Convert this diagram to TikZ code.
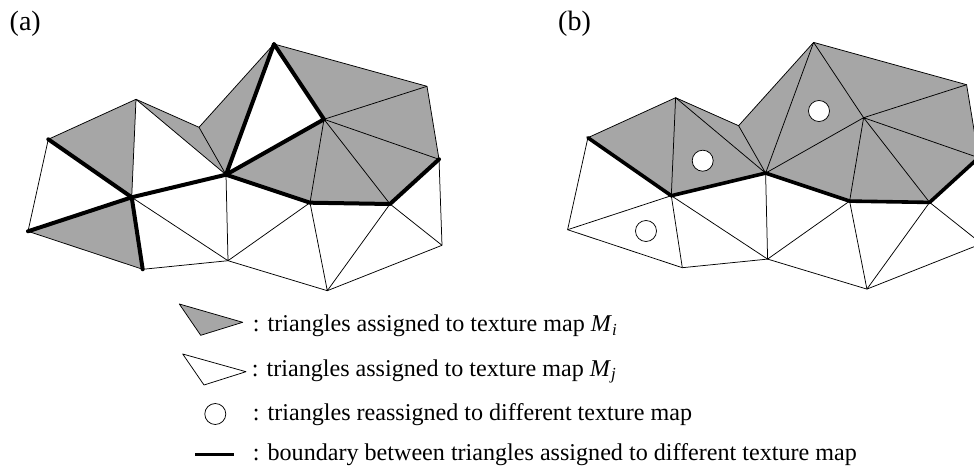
\documentclass[tikz,border=0pt]{standalone}
\usepackage{fontspec}
\setmainfont{Liberation Serif}
\definecolor{meshgrey}{HTML}{A6A6A6}
\tikzset{
  thinedge/.style={draw=black,line width=0.75pt,line join=round},
  thickedge/.style={draw=black,line width=4pt,line cap=round,line join=round},
  greyface/.style={fill=meshgrey,draw=none},
  hole/.style={circle,draw=black,fill=white,line width=0.75pt,minimum size=21pt,inner sep=0pt},
  legendtext/.style={anchor=base west,inner sep=0pt,font=\fontsize{24.1pt}{26pt}\selectfont},
  panel/.style={anchor=base west,inner sep=0pt,font=\fontsize{28pt}{30pt}\selectfont}
}
\newcommand{\meshpts}{%
  \coordinate (p1) at (48.3,139.3);
  \coordinate (p2) at (136,99.3);
  \coordinate (p3) at (199,127.3);
  \coordinate (p4) at (274,44);
  \coordinate (p5) at (427,86.3);
  \coordinate (p6) at (439,159.3);
  \coordinate (p7) at (442,245.3);
  \coordinate (p8) at (327.3,290.7);
  \coordinate (p9) at (228,260.7);
  \coordinate (p10) at (142.7,269.3);
  \coordinate (p11) at (28,231.3);
  \coordinate (q1) at (131.7,197.3);
  \coordinate (q2) at (226,174.7);
  \coordinate (q3) at (324,119.3);
  \coordinate (q4) at (310,202.7);
  \coordinate (q5) at (390,204);
}
\newcommand{\meshthin}{%
  \draw[thinedge] (p1)--(p2)--(p3)--(p4)--(p5)--(p6)--(p7)--(p8)--(p9)--(p10)--(p11)--cycle;
  \draw[thinedge] (p2)--(q1) (p2)--(q2) (p3)--(q2) (q3)--(p5) (q3)--(p6) (q3)--(q4) (q3)--(q5);
  \draw[thinedge] (q2)--(p9) (q1)--(p9) (q4)--(p9) (q4)--(p8) (q5)--(p8) (q5)--(p7);
}
\begin{document}
\begin{tikzpicture}[x=1pt,y=-1pt]
\useasboundingbox (0,0) rectangle (974,468);
\clip (0,0) rectangle (974,468);
% panel (a)
\begin{scope}
  \meshpts
  \fill[greyface] (p1)--(p2)--(q1)--cycle;
  \fill[greyface] (p11)--(q1)--(p10)--cycle;
  \fill[greyface] (p2)--(p3)--(q2)--cycle;
  \fill[greyface] (p3)--(p4)--(q2)--cycle;
  \fill[greyface] (p4)--(p5)--(p6)--(q5)--(q4)--(q2)--(q3)--cycle;
  \meshthin
  \draw[thickedge] (p1)--(q1)--(q2)--(q4)--(q5)--(p6);
  \draw[thickedge] (p11)--(q1)--(p10);
  \draw[thickedge] (q2)--(p4)--(q3)--(q2);
\end{scope}
% panel (b)
\begin{scope}[shift={(539.6,-1.6)}]
  \meshpts
  \fill[greyface] (p1)--(p2)--(p3)--(p4)--(p5)--(p6)--(q5)--(q4)--(q2)--(q1)--cycle;
  \meshthin
  \draw[thinedge] (q1)--(p11) (q1)--(p10) (q2)--(p4) (p4)--(q3) (q2)--(q3);
  \draw[thickedge,line width=3.6pt] (p1)--(q1)--(q2)--(q4)--(q5)--(p6);
\end{scope}
\node[hole] (h1) at (819,111) {};
\node[hole] (h2) at (702.7,160.7) {};
\node[hole] (h3) at (646,231) {};
% panel labels
\node[panel] (la) at (9.5,31) {(a)};
\node[panel] (lb) at (558,31) {(b)};
% legend
\draw[thinedge,fill=meshgrey] (179.3,304)--(242.7,322.3)--(200.7,335.3)--cycle;
\draw[thinedge,fill=white] (182.7,354)--(246,371.7)--(204,385)--cycle;
\node[hole] (h4) at (215.3,414) {};
\draw[line width=3pt,draw=black] (195,454)--(234,454);
\node[legendtext] (t1) at (252.7,331.5) {: triangles assigned to texture map \textit{M}\textsubscript{\textit{i}}};
\node[legendtext] (t2) at (251.7,376) {: triangles assigned to texture map \textit{M}\textsubscript{\textit{j}}};
\node[legendtext] (t3) at (252.7,420) {: triangles reassigned to different texture map};
\node[legendtext] (t4) at (252.7,460.7) {: boundary between triangles assigned to different texture map};
\end{tikzpicture}
\end{document}
